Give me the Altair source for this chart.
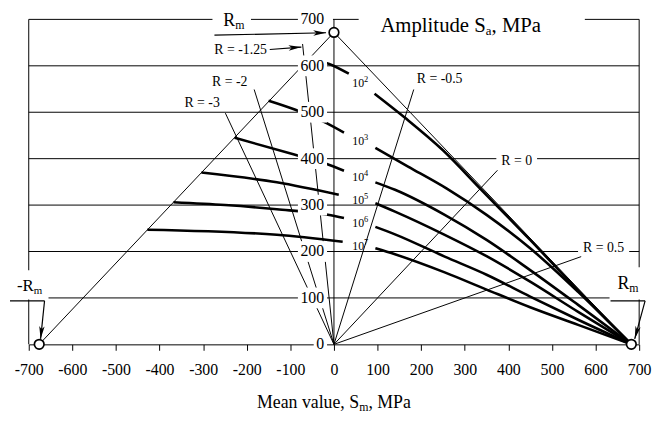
import math
import altair as alt
import numpy as np
import pandas as pd

# ---------------- data ----------------
X_TICKS = list(range(-700, 701, 100))
Y_TICKS = list(range(0, 701, 100))
GRID_Y = [100, 200, 300, 400, 500, 600]

RM_NEG = -676   # -Rm on the mean-stress axis
RM_POS = 682    # Rm on the mean-stress axis
RM_TOP = 672    # Rm on the amplitude axis

N_EXPONENTS = [2, 3, 4, 5, 6, 7]
N2_SM = [-57, -11, 34, 93, 163, 250, 338, 450, 560, 682]
N2_SA = [615, 604, 583, 540, 488, 418, 333, 225, 116, 0]
N3_SM = [-150, -90, -18, 23, 95, 170, 258, 350, 450, 560, 682]
N3_SA = [525, 506, 477, 456, 423, 383, 336, 279, 207, 113, 0]
N4_SM = [-228, -91, -18, 23, 95, 140, 254, 350, 450, 560, 682]
N4_SA = [445, 409, 389, 374, 349, 333, 279, 225, 160, 85, 0]
N5_SM = [-304, -131, 11, 95, 140, 254, 350, 450, 560, 682]
N5_SA = [370, 349, 322, 304, 286, 236, 190, 135, 70, 0]
N6_SM = [-368, -250, -131, -14, 23, 95, 140, 254, 350, 450, 560, 682]
N6_SA = [306, 300, 291, 279, 272, 253, 237, 189, 150, 103, 53, 0]
N7_SM = [-428, -131, 20, 95, 140, 254, 350, 450, 560, 682]
N7_SA = [247, 236, 221, 207, 194, 155, 118, 80, 42, 0]
CURVES = [(2, N2_SM, N2_SA), (3, N3_SM, N3_SA), (4, N4_SM, N4_SA),
          (5, N5_SM, N5_SA), (6, N6_SM, N6_SA), (7, N7_SM, N7_SA)]
LABEL_SM = 60   # mean stress where the "10^k" labels sit (gap in the curves)

R_TEXT = ["R = -3", "R = -2", "R = -1.25", "R = -0.5", "R = 0", "R = 0.5"]
R_END_SM = [-249, -183, -72, 183, 375, 567]
R_END_SA = [498, 549, 647, 549, 375, 189]

# ---------------- layout ----------------
FONT = "Liberation Serif"
W, H = 618, 329
PAD = {"left": 21, "top": 9, "right": 14, "bottom": 70}
X0, Y0 = 8 + PAD["left"], 8 + PAD["top"]


def sx(px):
    return -700 + (px - X0) * 1400 / W


def sy(py):
    return 700 - (py - Y0) * 700 / H


def px_x(d):
    return X0 + (d + 700) * W / 1400


def px_y(d):
    return Y0 + (700 - d) * H / 700


TW = {' ': 250, ',': 250, '.': 250, '-': 333, '=': 564, 'A': 722, 'M': 889,
      'P': 556, 'R': 667, 'S': 556, 'a': 444, 'd': 500, 'e': 444, 'i': 278,
      'l': 278, 'm': 778, 'n': 500, 'p': 500, 't': 278, 'u': 500, 'v': 500}


def tw(s, size):
    return sum(TW.get(c, 500) for c in s) * size / 1000


def pieces(start_px, base_px, parts):
    rows, x = [], start_px
    for text, size, shift in parts:
        rows.append(dict(x=sx(x), y=sy(base_px + shift), text=text, size=size))
        x += tw(text, size)
    return rows


xscale = alt.Scale(domain=[-700, 700], nice=False, zero=False)
yscale = alt.Scale(domain=[0, 700], nice=False, zero=False)
xaxis = alt.Axis(values=X_TICKS, title=None, grid=False, tickSize=6,
                 tickColor="black", domainColor="black", labelColor="black",
                 labelFont=FONT, labelFontSize=16, labelPadding=12,
                 labelExpr="datum.value + ''", domainWidth=1, tickWidth=1,
                 labelFlush=False, labelOverlap=False)
X = alt.X("x:Q", scale=xscale, axis=xaxis)
Y = alt.Y("y:Q", scale=yscale, axis=None)

# thin straight lines
segs = []
for g in GRID_Y:
    segs.append((-700, g, 700, g))
segs.append((-700, 700, 700, 700))
segs.append((-700, 0, -700, 700))
segs.append((700, 0, 700, 700))
segs.append((0, 0, 0, 700))
segs.append((RM_NEG, 0, 0, RM_TOP))
segs.append((0, RM_TOP, RM_POS, 0))
for sm, sa in zip(R_END_SM, R_END_SA):
    segs.append((0, 0, sm, sa))
seg_df = pd.DataFrame(segs, columns=["x", "y", "x2", "y2"])
thin = alt.Chart(seg_df).mark_rule(color="black", strokeWidth=1).encode(
    x=X, y=Y, x2="x2:Q", y2="y2:Q")

# bold constant-life curves, split where the 10^k label sits
rows = []
label_rows = []
for k, sm, sa in CURVES:
    for i, (a, b) in enumerate(zip(sm, sa)):
        part = "L" if a < LABEL_SM else "R"
        rows.append(dict(x=a, y=b, seg=f"{k}{part}", i=i))
    ly = float(np.interp(LABEL_SM, sm, sa))
    base = px_y(ly) + 4.5
    label_rows += pieces(356.5, base, [("10", 12, 0), (str(k), 8.5, -5)])
curve_df = pd.DataFrame(rows)
bold = alt.Chart(curve_df).mark_line(color="black", strokeWidth=2.6,
                                     strokeCap="butt", interpolate="monotone").encode(
    x=X, y=Y, detail="seg:N", order="i:Q")

# white boxes behind labels
boxes = []
for v in Y_TICKS:
    w = tw(str(v), 16)
    right = 337 if v == 700 else 331
    boxes.append((sx(328 - w - 2.5), sy(px_y(v) + 10.5), sx(right), sy(px_y(v) - 10.5)))
for txt, cx, cy in [("R = 0", 523, 160), ("R = 0.5", 611, 248)]:
    w = tw(txt, 14) / 2 + 5
    boxes.append((sx(cx - w), sy(cy + 7.5), sx(cx + w), sy(cy - 7.5)))
boxes.append((sx(215), sy(31), sx(254), sy(5)))      # top Rm
boxes.append((sx(363), sy(32), sx(592), sy(5)))      # amplitude title
boxes.append((sx(8), sy(300.5), sx(49), sy(271)))    # -Rm
boxes.append((sx(617), sy(300.5), sx(662), sy(268)))  # Rm right
box_df = pd.DataFrame(boxes, columns=["x", "y", "x2", "y2"])
white = alt.Chart(box_df).mark_rect(fill="white", strokeWidth=0).encode(
    x=X, y=Y, x2="x2:Q", y2="y2:Q")

# arrows (pixel layout of annotation)
ARROWS = [((217, 33), (330, 30.5)), ((273, 47.5), (305, 45)),
          ((45, 302), (41, 340.5)), ((653, 302), (642.5, 340.5))]
TAILS = [((10, 302), (45, 302)), ((618, 302), (653, 302))]
HEAD = 13
shaft = []
heads = []
for (ax, ay), (bx, by) in ARROWS + TAILS:
    shaft.append((sx(ax), sy(ay), sx(bx), sy(by)))
for (ax, ay), (bx, by) in ARROWS:
    ddx, ddy = bx - ax, by - ay
    L = math.hypot(ddx, ddy)
    ux, uy = ddx / L, ddy / L
    cx, cy = bx - ux * HEAD / 2, by - uy * HEAD / 2
    ang = math.degrees(math.atan2(ddy, ddx)) % 360
    heads.append(dict(x=sx(cx), y=sy(cy), ang=ang))
shaft_df = pd.DataFrame(shaft, columns=["x", "y", "x2", "y2"])
shafts = alt.Chart(shaft_df).mark_rule(color="black", strokeWidth=1.2).encode(
    x=X, y=Y, x2="x2:Q", y2="y2:Q")
head_layer = alt.Chart(pd.DataFrame(heads)).mark_point(
    shape="M1,0L-1,-0.42L-0.5,0L-1,0.42Z", filled=True, fill="black",
    strokeWidth=0, opacity=1, size=HEAD * HEAD).encode(
    x=X, y=Y, angle=alt.Angle("ang:Q", scale=None))

# Rm circles
circ_df = pd.DataFrame({"x": [RM_NEG, 0, RM_POS], "y": [0, RM_TOP, 0]})
circles = alt.Chart(circ_df).mark_point(shape="circle", size=95, filled=True,
                                        fill="white", stroke="black",
                                        strokeWidth=1.7, opacity=1).encode(x=X, y=Y)

# y tick labels
ylab = alt.Chart(pd.DataFrame({"x": [0] * len(Y_TICKS), "y": Y_TICKS,
                               "t": [str(v) for v in Y_TICKS]})).mark_text(
    align="right", baseline="middle", dx=-10, font=FONT, fontSize=16,
    color="black").encode(x=X, y=Y, text="t:N")

# R labels
R_POS = [(204.5, 102), (232.5, 80), (243.5, 48), (445, 77), (523, 160), (611, 248)]
rlab_df = pd.DataFrame({"x": [sx(p[0]) for p in R_POS], "y": [sy(p[1]) for p in R_POS],
                        "t": R_TEXT})
rlab = alt.Chart(rlab_df).mark_text(align="center", baseline="middle", font=FONT,
                                    fontSize=14, color="black").encode(
    x=X, y=Y, text="t:N")

# composite labels with sub/superscripts
comp = list(label_rows)
comp += pieces(385, 29.5, [("Amplitude S", 21, 0), ("a", 13, 3.5), (", MPa", 21, 0)])
mean_parts = [("Mean value, S", 18, 0), ("m", 12, 3.5), (", MPa", 18, 0)]
mean_w = sum(tw(t, s) for t, s, _ in mean_parts)
comp += pieces(338 - mean_w / 2, 410, mean_parts)
comp += pieces(226, 23.5, [("R", 18, 0), ("m", 12, 3)])
comp += pieces(17, 292, [("-R", 17, 0), ("m", 11, 3)])
comp += pieces(625, 290, [("R", 18, 0), ("m", 12, 3)])
comp_df = pd.DataFrame(comp)
comp_layer = alt.Chart(comp_df).mark_text(align="left", baseline="alphabetic",
                                          font=FONT, color="black").encode(
    x=X, y=Y, text="text:N", size=alt.Size("size:Q", scale=None))

chart = alt.layer(thin, bold, white, shafts, head_layer, circles, ylab, rlab,
                  comp_layer).properties(
    width=W, height=H, autosize=alt.AutoSizeParams(type="none"), padding=PAD,
    background="white").configure_view(strokeWidth=0)

chart.save("out.html", embed_options={"renderer": "svg", "actions": False})
